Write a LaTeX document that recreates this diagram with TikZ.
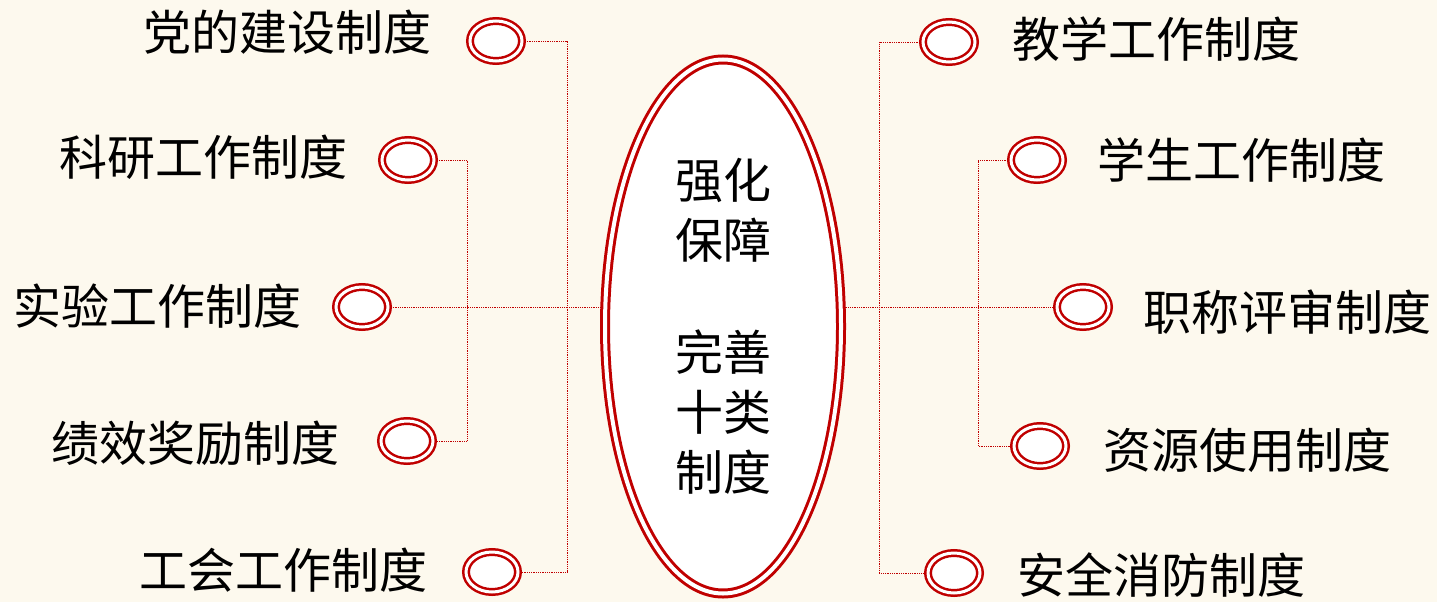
\documentclass[tikz,border=0pt]{standalone}
\usepackage{fontspec}
\newfontfamily\cjk{Noto Sans CJK SC}
\usetikzlibrary{shapes.geometric,backgrounds}
\definecolor{bg}{HTML}{FDF9EE}
\definecolor{dred}{HTML}{C00000}
\begin{document}
\begin{tikzpicture}[x=1pt,y=-1pt,
  ring/.style={ellipse, draw=dred, double=white, double distance=3pt, line width=2.5pt, fill=white, minimum width=52pt, minimum height=40pt, inner sep=0pt},
  big/.style={ellipse, draw=dred, double=white, double distance=4pt, line width=3pt, fill=white, minimum width=236pt, minimum height=534pt, inner sep=0pt, align=center, font=\cjk\fontsize{48}{60}\selectfont},
  lab/.style={font=\cjk\fontsize{48}{56}\selectfont, inner sep=0pt, text=black},
  conn/.style={draw=dred, densely dotted, line width=0.8pt}
]
\useasboundingbox (0,0) rectangle (1437,602);

\node[big] (C) at (723,326.5) {强化\\保障\\[52pt]完善\\十类\\制度};

\node[ring] (L1) at (496,41) {};
\node[ring] (L2) at (408,160) {};
\node[ring] (L3) at (362,307) {};
\node[ring] (L4) at (407,441) {};
\node[ring] (L5) at (492,572) {};
\node[ring] (R1) at (949,42) {};
\node[ring] (R2) at (1037,160) {};
\node[ring] (R3) at (1083,307) {};
\node[ring] (R4) at (1040,446) {};
\node[ring] (R5) at (954,573) {};

\node[lab, anchor=base east] (t1) at (432,51) {党的建设制度};
\node[lab, anchor=base east] (t2) at (348,175) {科研工作制度};
\node[lab, anchor=base east] (t3) at (302,324) {实验工作制度};
\node[lab, anchor=base east] (t4) at (340,461) {绩效奖励制度};
\node[lab, anchor=base east] (t5) at (428,588) {工会工作制度};
\node[lab, anchor=base west] (u1) at (1012,58) {教学工作制度};
\node[lab, anchor=base west] (u2) at (1097,178) {学生工作制度};
\node[lab, anchor=base west] (u3) at (1143,330) {职称评审制度};
\node[lab, anchor=base west] (u4) at (1103,468) {资源使用制度};
\node[lab, anchor=base west] (u5) at (1017,593) {安全消防制度};

\begin{pgfonlayer}{background}
\fill[bg] (0,0) rectangle (1437,602);
\draw[conn] (L1) -- ++(71,0) |- (L5);
\draw[conn] (L2) -- ++(59,0) |- (L4);
\draw[conn] (L3) -- (L3 -| C) -- (R3);
\draw[conn] (R1) -- ++(-70,0) |- (R5);
\draw[conn] (R2) -- ++(-59,0) |- (R4);
\end{pgfonlayer}
\end{tikzpicture}
\end{document}
